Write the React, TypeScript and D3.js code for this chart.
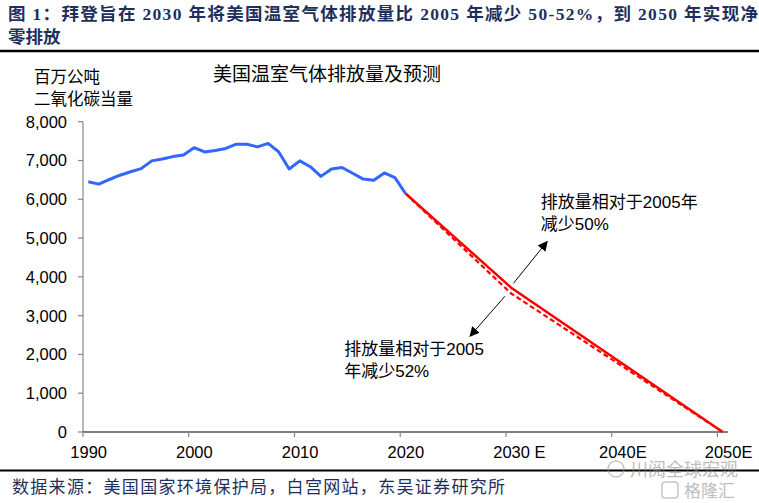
import React from 'react';
import * as d3 from 'd3';

// categories: 1990 .. 2050 (one band per year)
const years: number[] = d3.range(1990, 2051);
const tickYears = [1990, 2000, 2010, 2020, 2030, 2040, 2050];
const tickLabels = ['1990', '2000', '2010', '2020', '2030 E', '2040E', '2050E'];
const yTicks = [0, 1000, 2000, 3000, 4000, 5000, 6000, 7000, 8000];

// historical emissions, 1990-2020 (million tonnes CO2e)
const histYears = d3.range(1990, 2021);
const histValues = [
  6450, 6390, 6510, 6620, 6710, 6790, 6990, 7040, 7100, 7140,
  7330, 7220, 7260, 7310, 7420, 7420, 7350, 7440, 7225, 6780,
  6990, 6840, 6590, 6780, 6820, 6670, 6520, 6490, 6680, 6560,
  6150,
];

// projections
const projYears = [2020, 2030, 2050];
const target50 = [6150, 3720, 0];
const target52 = [6150, 3570, 0];

const W = 759;
const H = 503;
const margin = { top: 121.7, right: 31, bottom: 71, left: 83 };
const navy = '#1f2f5c';
const cjk = '"Liberation Sans", Arial, "Noto Sans CJK SC", sans-serif';
const serif = '"Liberation Serif", "Times New Roman", "Noto Sans CJK SC", serif';

export default function App() {
  const x = d3.scaleBand<number>()
    .domain(years)
    .range([margin.left, W - margin.right])
    .padding(0);
  const step = x.step();
  // continuous position inside the band axis (year -> band centre)
  const xc = (yr: number) => (x(1990) as number) + (yr - 1990) * step + step / 2;

  const y = d3.scaleLinear()
    .domain([0, 8000])
    .range([H - margin.bottom, margin.top]);

  const line = d3.line<[number, number]>()
    .x(d => xc(d[0]))
    .y(d => y(d[1]));

  const hist = histYears.map((yr, i) => [yr, histValues[i]] as [number, number]);
  const p50 = projYears.map((yr, i) => [yr, target50[i]] as [number, number]);
  const p52 = projYears.map((yr, i) => [yr, target52[i]] as [number, number]);

  const x0 = margin.left;
  const y0 = y(0);

  // annotation arrows in data units
  const arrows = [
    { from: [2030.2, 3830], to: [2033.4, 4910] },
    { from: [2029.4, 3500], to: [2026.1, 2470] },
  ];

  return (
    <svg width={W} height={H} style={{ position: 'absolute', left: 0, top: 0, background: '#fff' }}>
      <defs>
        <marker id="ah" viewBox="0 0 10 10" refX="9" refY="5" markerWidth="10" markerHeight="10"
          markerUnits="userSpaceOnUse" orient="auto">
          <path d="M0,0 L10,5 L0,10 z" fill="#000" />
        </marker>
      </defs>
      <rect width={W} height={H} fill="#fff" />

      {/* header */}
      <text x={8} y={20} fontFamily={serif} fontWeight="bold" fontSize={17.5} fill={navy}
        textLength={750} lengthAdjust="spacing">
        图 1：拜登旨在 2030 年将美国温室气体排放量比 2005 年减少 50-52%，到 2050 年实现净
      </text>
      <text x={8} y={43} fontFamily={serif} fontWeight="bold" fontSize={17.5} fill={navy}>
        零排放
      </text>
      <line x1={0} x2={W} y1={51} y2={51} stroke="#000" strokeWidth={2.5} />

      {/* title and unit */}
      <text x={327} y={81} textAnchor="middle" fontFamily={cjk} fontSize={19} fill="#000">
        美国温室气体排放量及预测
      </text>
      <text x={34} y={83} fontFamily={cjk} fontSize={16.5} fill="#000">百万公吨</text>
      <text x={34} y={105} fontFamily={cjk} fontSize={16.5} fill="#000">二氧化碳当量</text>

      {/* y axis */}
      <line x1={x0} x2={x0} y1={y(8000)} y2={y0} stroke="#868686" strokeWidth={1.2} />
      {yTicks.map(t => (
        <g key={t}>
          <line x1={x0 - 5} x2={x0} y1={y(t)} y2={y(t)} stroke="#868686" strokeWidth={1.2} />
          <text x={67} y={y(t) + 6} textAnchor="end" fontFamily={cjk} fontSize={16.5} fill="#000">
            {d3.format(',')(t)}
          </text>
        </g>
      ))}

      {/* x axis */}
      <line x1={x0} x2={W - margin.right} y1={y0} y2={y0} stroke="#000" strokeWidth={1.2} />
      {tickYears.map((t, i) => (
        <g key={t}>
          <line x1={x(t) as number} x2={x(t) as number} y1={y0} y2={y0 + 5} stroke="#868686" strokeWidth={1.2} />
          <text x={xc(t) - 18} y={458} textAnchor="start" fontFamily={cjk} fontSize={16.5} fill="#000">
            {tickLabels[i]}
          </text>
        </g>
      ))}

      {/* series */}
      <path d={line(p52) ?? ''} fill="none" stroke="#ff0000" strokeWidth={2.2} strokeDasharray="5,3" />
      <path d={line(p50) ?? ''} fill="none" stroke="#ff0000" strokeWidth={2.5} />
      <path d={line(hist) ?? ''} fill="none" stroke="#3366ff" strokeWidth={3} strokeLinejoin="round" />

      {/* annotations */}
      {arrows.map((a, i) => (
        <line key={i} x1={xc(a.from[0])} y1={y(a.from[1])} x2={xc(a.to[0])} y2={y(a.to[1])}
          stroke="#000" strokeWidth={1} markerEnd="url(#ah)" />
      ))}
      <text x={xc(2032.8)} y={y(5770)} fontFamily={cjk} fontSize={17} fill="#000">排放量相对于2005年</text>
      <text x={xc(2032.8)} y={y(5200)} fontFamily={cjk} fontSize={17} fill="#000">减少50%</text>
      <text x={xc(2014.2)} y={y(1980)} fontFamily={cjk} fontSize={17} fill="#000">排放量相对于2005</text>
      <text x={xc(2014.2)} y={y(1420)} fontFamily={cjk} fontSize={17} fill="#000">年减少52%</text>

      {/* footer */}
      <line x1={0} x2={W} y1={470.5} y2={470.5} stroke="#000" strokeWidth={2} />
      <text x={12} y={493} fontFamily={serif} fontSize={17} fill={navy} textLength={493} lengthAdjust="spacing">
        数据来源：美国国家环境保护局，白宫网站，东吴证券研究所
      </text>

      {/* watermark */}
      <g opacity={0.55}>
        <circle cx={616} cy={469} r={8} fill="none" stroke="#999" strokeWidth={1.5} />
        <text x={630} y={476} fontFamily={cjk} fontSize={18} fill="#888">川阅全球宏观</text>
        <rect x={662} y={482} width={16} height={16} rx={3} fill="none" stroke="#999" strokeWidth={1.5} />
        <text x={684} y={497} fontFamily={cjk} fontSize={17} fill="#888">格隆汇</text>
      </g>
    </svg>
  );
}
